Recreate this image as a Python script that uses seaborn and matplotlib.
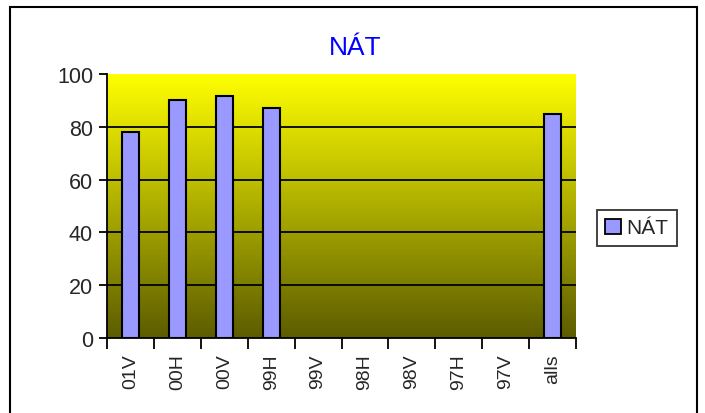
import numpy as np
import pandas as pd
import matplotlib
matplotlib.use("Agg")
import matplotlib.pyplot as plt
import matplotlib.patches as mpatches
from matplotlib.colors import LinearSegmentedColormap
import seaborn as sns

categories = ["01V", "00H", "00V", "99H", "99V", "98H", "98V", "97H", "97V", "alls"]
values = [78, 90, 91.7, 87, np.nan, np.nan, np.nan, np.nan, np.nan, 85]
series_name = "NÁT"
yticks = [0, 20, 40, 60, 80, 100]

sns.set_theme(style="white")
plt.rcParams['font.family'] = ['Liberation Sans', 'DejaVu Sans']

df = pd.DataFrame({"cat": categories, "val": values})

fig = plt.figure(figsize=(7.05, 4.14), dpi=100)
ax = fig.add_axes([107/705, 1-339/414, (576-107)/705, (339-75)/414])

# gradient background
cmap = LinearSegmentedColormap.from_list("g", ["#5c5c00", "#FFFF00"])
grad = np.linspace(0, 1, 256).reshape(-1, 1)
ax.imshow(grad, aspect="auto", cmap=cmap, origin="lower",
          extent=[-0.5, len(categories)-0.5, 0, 100], zorder=0)

sns.barplot(data=df, x="cat", y="val", ax=ax, color="#9999FF",
            edgecolor="black", linewidth=1.5, width=0.36, saturation=1, zorder=3)

ax.set_xlim(-0.5, len(categories)-0.5)
ax.set_ylim(0, 100)
ax.set_yticks(yticks)
ax.set_yticklabels([str(t) for t in yticks], fontsize=15.5)
for t in yticks[1:-1]:
    ax.axhline(t, color="black", lw=1.3, zorder=2)

ax.set_xticks(range(len(categories)))
ax.set_xticklabels(categories, rotation=90, fontsize=14)
ax.tick_params(axis="x", length=0, pad=11)
ax.set_xticks(np.arange(-0.5, len(categories)), minor=True)
ax.tick_params(axis="x", which="minor", length=8, width=1.3, color="black", direction="out", bottom=True)
ax.tick_params(axis="y", length=6, width=1.3, color="black", direction="out", left=True, pad=4)
ax.set_xlabel("")
ax.set_ylabel("")

for s in ["top", "right"]:
    ax.spines[s].set_visible(False)
for s in ["left", "bottom"]:
    ax.spines[s].set_color("black")
    ax.spines[s].set_linewidth(1.3)
    ax.spines[s].set_zorder(5)

fig.text(355/705, 1-48/414, series_name, color="#0000FF", fontsize=19,
         ha="center", va="center")

handle = mpatches.Patch(facecolor="#9999FF", edgecolor="black", linewidth=1.3, label=series_name)
leg = fig.legend(handles=[handle], loc="center left", bbox_to_anchor=(597/705, 1-229/414),
                 frameon=True, fancybox=False, fontsize=15, handlelength=0.75, handleheight=0.75,
                 handletextpad=0.25, borderpad=0.4, borderaxespad=0)
leg.get_frame().set_edgecolor("black")
leg.get_frame().set_linewidth(1.3)

fig.patches.append(mpatches.Rectangle((10/705, -0.05), (697-10)/705, 1.05-8/414,
                                      transform=fig.transFigure, fill=False,
                                      edgecolor="black", linewidth=1.5))

fig.savefig("out.png", dpi=100)
